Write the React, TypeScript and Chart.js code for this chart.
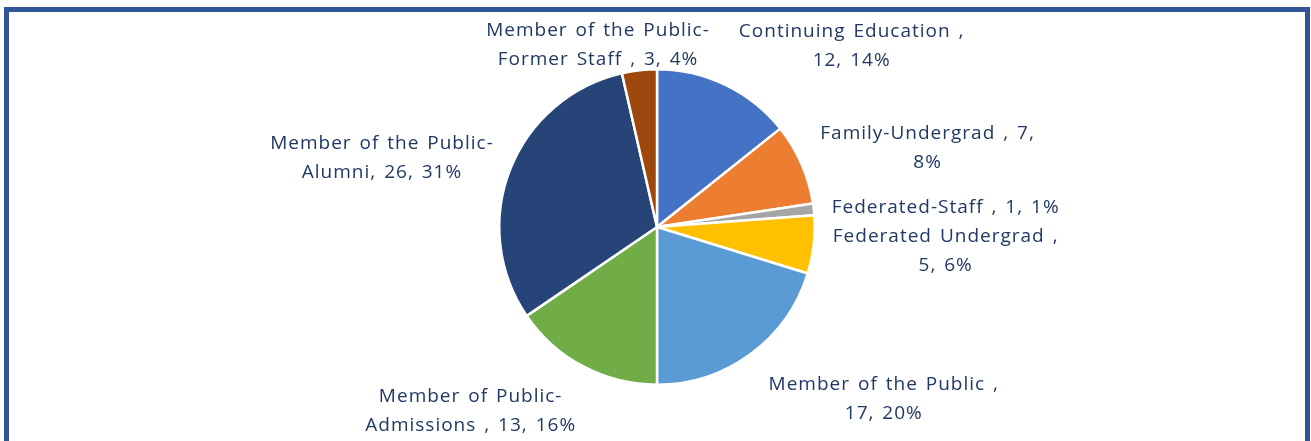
import React, { useEffect, useRef } from "react";
import { Chart, registerables } from "chart.js";

Chart.register(...registerables);

const categories = [
  "Continuing Education ",
  "Family-Undergrad ",
  "Federated-Staff ",
  "Federated Undergrad ",
  "Member of the Public ",
  "Member of Public-Admissions ",
  "Member of the Public-Alumni",
  "Member of the Public-Former Staff ",
];
const values = [12, 7, 1, 5, 17, 13, 26, 3];
const percents = [14, 8, 1, 6, 20, 16, 31, 4];
const colors = [
  "#4472C4",
  "#ED7D31",
  "#A5A5A5",
  "#FFC000",
  "#5B9BD5",
  "#70AD47",
  "#264478",
  "#9E480E",
];
// label box-centre nudges relative to the radial anchor point (style only)
const labelNudgeX = [121, 115, 120, 120, 126, -107, -117, -40];
const labelNudgeY = [-28, -11, 0, 5, 36, 34, -7, -13];

const FONT = "19px 'Open Sans'";
const LINE_H = 29;
const TEXT_COLOR = "#203864";
const WRAP_WIDTH = 238;

function wrap(ctx: CanvasRenderingContext2D, text: string, maxW: number): string[] {
  const tokens = text.match(/[^ -]*[ -]?/g)!.filter((t) => t.length > 0);
  const lines: string[] = [];
  let cur = "";
  for (const t of tokens) {
    const test = cur + t;
    if (cur && ctx.measureText(test.trimEnd()).width > maxW) {
      lines.push(cur.trimEnd());
      cur = t;
    } else {
      cur = test;
    }
  }
  if (cur.trim()) lines.push(cur.trimEnd());
  return lines;
}

const labelPlugin = {
  id: "pieLabels",
  afterDatasetsDraw(chart: any) {
    const ctx: any = chart.ctx;
    const meta = chart.getDatasetMeta(0);
    ctx.save();
    ctx.font = FONT;
    ctx.letterSpacing = "1px";
    ctx.wordSpacing = "2px";
    ctx.fillStyle = TEXT_COLOR;
    ctx.textAlign = "center";
    ctx.textBaseline = "middle";
    meta.data.forEach((arc: any, i: number) => {
      const { x, y, startAngle, endAngle, outerRadius } = arc.getProps(
        ["x", "y", "startAngle", "endAngle", "outerRadius"],
        true
      );
      const mid = (startAngle + endAngle) / 2;
      const r = outerRadius + 12;
      const ax = x + Math.cos(mid) * r + labelNudgeX[i];
      const ay = y + Math.sin(mid) * r + labelNudgeY[i];
      const text = `${categories[i]}, ${values[i]}, ${percents[i]}%`;
      const lines = wrap(ctx, text, WRAP_WIDTH);
      const top = ay - ((lines.length - 1) * LINE_H) / 2;
      lines.forEach((ln, k) => ctx.fillText(ln, ax, top + k * LINE_H));
    });
    ctx.restore();
  },
};

export default function App() {
  const ref = useRef<HTMLCanvasElement>(null);
  useEffect(() => {
    const chart = new Chart(ref.current!, {
      type: "pie",
      data: {
        labels: categories,
        datasets: [
          {
            data: values,
            backgroundColor: colors,
            borderColor: "#ffffff",
            borderWidth: 2.5,
            hoverOffset: 0,
          },
        ],
      },
      options: {
        animation: false,
        responsive: false,
        events: [],
        layout: { padding: { left: 498, right: 495, top: 68, bottom: 55 } },
        plugins: { legend: { display: false }, tooltip: { enabled: false } },
      },
      plugins: [labelPlugin],
    });
    return () => chart.destroy();
  }, []);
  return (
    <div style={{ position: "fixed", left: 0, top: 0, width: 1311, height: 441, background: "#fff", overflow: "hidden" }}>
      <div
        style={{
          position: "absolute",
          left: 4,
          top: 7,
          width: 1296,
          height: 460,
          border: "5px solid #2F5597",
        }}
      />
      <canvas ref={ref} width={1311} height={441} style={{ position: "absolute", left: 0, top: 0 }} />
    </div>
  );
}
